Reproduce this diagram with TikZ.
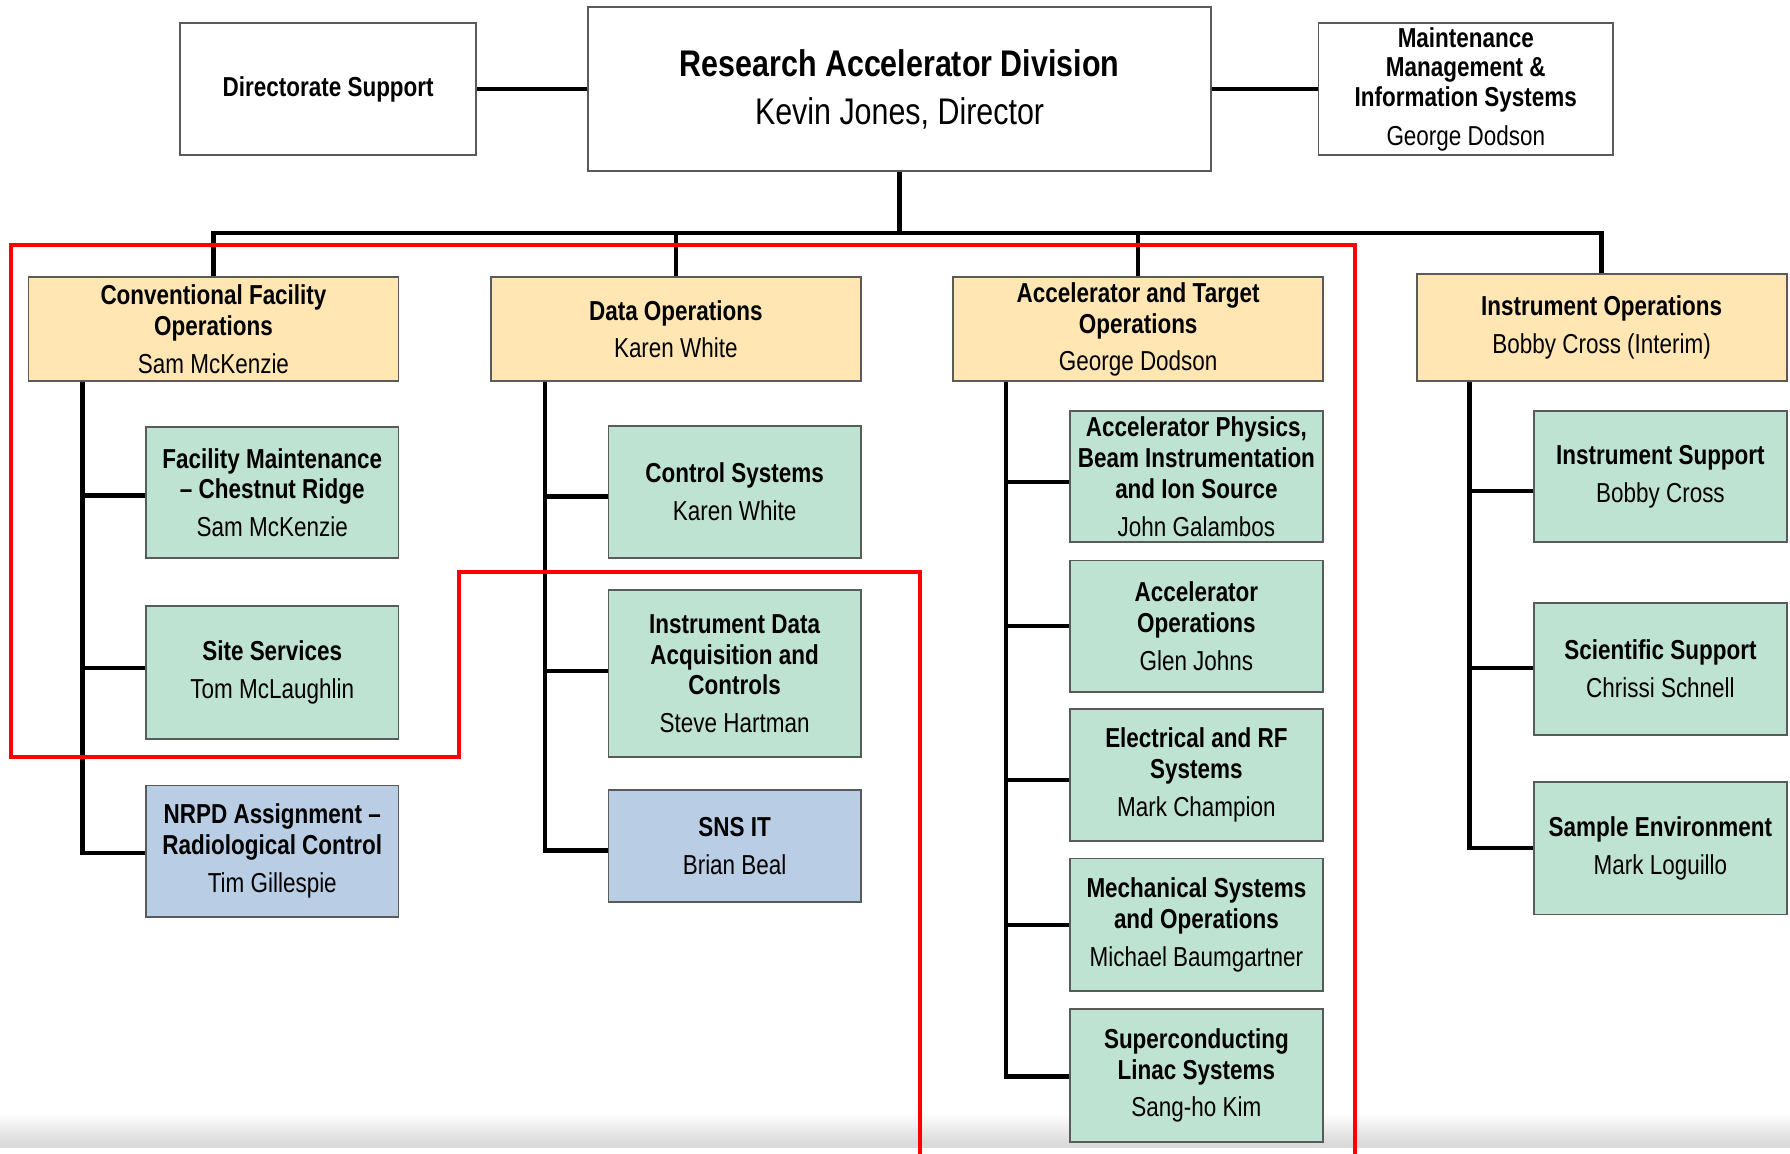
\documentclass[tikz,border=0pt]{standalone}
\usepackage{fontspec}
\setmainfont{Liberation Sans}[FakeStretch=0.82]
\definecolor{ylw}{HTML}{FFE6B3}
\definecolor{grn}{HTML}{BFE3D2}
\definecolor{blu}{HTML}{B9CDE5}
\definecolor{boxline}{HTML}{5A5A5A}
\begin{document}
\begin{tikzpicture}[x=1pt,y=-1pt,
  box/.style={draw=boxline, line width=1.6pt, inner sep=0pt, align=center, font=\fontsize{24}{27}\selectfont\bfseries},
  topbox/.style={box, fill=white},
  ylwbox/.style={box, fill=ylw, minimum width=324pt, minimum height=91pt},
  grnbox/.style={box, fill=grn, minimum width=221pt, minimum height=116pt},
  blubox/.style={box, fill=blu, minimum width=221pt, minimum height=116pt},
  conn/.style={line width=3.8pt, black},
  redline/.style={line width=3.5pt, red, line join=miter}]
\useasboundingbox (0,0) rectangle (1568,1010);
% bottom footer shading
\shade[top color=white, bottom color=black!14] (0,975) rectangle (1568,1000);
\fill[black!14] (0,1000) rectangle (1568,1006);

% top row
\node[topbox, minimum width=259pt, minimum height=116pt] (ds) at (287.5,78) {Directorate Support};
\node[topbox, minimum width=546pt, minimum height=144pt, font=\fontsize{32.5}{42}\selectfont\bfseries] (rad) at (788,78) {Research Accelerator Division\\\mdseries Kevin Jones, Director};
\node[topbox, minimum width=258pt, minimum height=116pt, font=\fontsize{24}{26}\selectfont\bfseries] (mm) at (1284,78) {Maintenance\\Management \&\\Information Systems\\[8pt]\mdseries George Dodson};

% level 2
\node[ylwbox] (cfo) at (187,288.5) {Conventional Facility\\Operations\\[6pt]\mdseries Sam McKenzie};
\node[ylwbox] (dop) at (592,288.5) {Data Operations\\[6pt]\mdseries Karen White};
\node[ylwbox] (ato) at (997,288.5) {Accelerator and Target\\Operations\\[6pt]\mdseries George Dodson};
\node[ylwbox, minimum height=94pt] (iop) at (1403,287) {Instrument Operations\\[6pt]\mdseries Bobby Cross (Interim)};

% column 1
\node[grnbox, minimum height=115pt] (fm) at (238.5,431.5) {Facility Maintenance\\-- Chestnut Ridge\\[6pt]\mdseries Sam McKenzie};
\node[grnbox] (ss) at (238.5,589) {Site Services\\[6pt]\mdseries Tom McLaughlin};
\node[blubox, minimum height=115pt] (nrpd) at (238.5,745.5) {NRPD Assignment --\\Radiological Control\\[6pt]\mdseries Tim Gillespie};

% column 2
\node[grnbox] (cs) at (643.5,431) {Control Systems\\[6pt]\mdseries Karen White};
\node[grnbox, minimum height=146pt] (ida) at (643.5,590) {Instrument Data\\Acquisition and\\Controls\\[6pt]\mdseries Steve Hartman};
\node[blubox, minimum height=98pt] (snsit) at (643.5,741) {SNS IT\\[6pt]\mdseries Brian Beal};

% column 3
\node[grnbox, minimum width=222pt, minimum height=115pt] (ap) at (1048,417.5) {Accelerator Physics,\\Beam Instrumentation\\and Ion Source\\[6pt]\mdseries John Galambos};
\node[grnbox, minimum width=222pt, minimum height=115pt] (ao) at (1048,548.5) {Accelerator\\Operations\\[6pt]\mdseries Glen Johns};
\node[grnbox, minimum width=222pt] (erf) at (1048,679) {Electrical and RF\\Systems\\[6pt]\mdseries Mark Champion};
\node[grnbox, minimum width=222pt] (ms) at (1048,810) {Mechanical Systems\\and Operations\\[6pt]\mdseries Michael Baumgartner};
\node[grnbox, minimum width=222pt] (scl) at (1048,942) {Superconducting\\Linac Systems\\[6pt]\mdseries Sang-ho Kim};

% column 4
\node[grnbox, minimum height=115pt] (is) at (1454.5,417.5) {Instrument Support\\[6pt]\mdseries Bobby Cross};
\node[grnbox] (sci) at (1454.5,586) {Scientific Support\\[6pt]\mdseries Chrissi Schnell};
\node[grnbox] (se) at (1454.5,743) {Sample Environment\\[6pt]\mdseries Mark Loguillo};

% top connectors
\draw[conn] (ds.east) -- (rad.west);
\draw[conn] (rad.east) -- (mm.west);
\coordinate (bus) at (788,204);
\draw[conn] (rad.south) -- (bus);
\draw[conn] (cfo.north) -- (cfo.north |- bus) -- (iop.north |- bus) -- (iop.north);
\draw[conn] (dop.north) -- (dop.north |- bus);
\draw[conn] (ato.north) -- (ato.north |- bus);

% column 1 connectors
\coordinate (s1) at ([xshift=48pt]cfo.south west);
\draw[conn] (s1) |- ([yshift=-1.5pt]nrpd.west);
\draw[conn] (s1 |- fm.west) ++(0,2.5) -- ([yshift=-2.5pt]fm.west);
\draw[conn] (s1 |- ss.west) ++(0,-4) -- ([yshift=4pt]ss.west);

% column 2 connectors
\coordinate (s2) at ([xshift=48pt]dop.south west);
\draw[conn] (s2) |- ([yshift=-4pt]snsit.west);
\draw[conn] (s2 |- cs.west) ++(0,4) -- ([yshift=-4pt]cs.west);
\draw[conn] (s2 |- ida.west) ++(0,-2) -- ([yshift=2pt]ida.west);

% column 3 connectors
\coordinate (s3) at ([xshift=47pt]ato.south west);
\draw[conn] (s3) |- ([yshift=-1pt]scl.west);
\draw[conn] (s3 |- ap.west) ++(0,4.5) -- ([yshift=-4.5pt]ap.west);
\draw[conn] (s3 |- ao.west) -- (ao.west);
\draw[conn] (s3 |- erf.west) ++(0,4) -- ([yshift=-4pt]erf.west);
\draw[conn] (s3 |- ms.west) -- (ms.west);

% column 4 connectors
\coordinate (s4) at ([xshift=47pt]iop.south west);
\draw[conn] (s4) |- (se.west);
\draw[conn] (s4 |- is.west) ++(0,12.5) -- ([yshift=-12.5pt]is.west);
\draw[conn] (s4 |- sci.west) ++(0,-1) -- ([yshift=1pt]sci.west);

% red highlight outline
\draw[redline] (806,1012) -- (806,501) -- (402,501) -- (402,663) -- (10,663) -- (10,215) -- (1187,215) -- (1187,1012);
\end{tikzpicture}
\end{document}
